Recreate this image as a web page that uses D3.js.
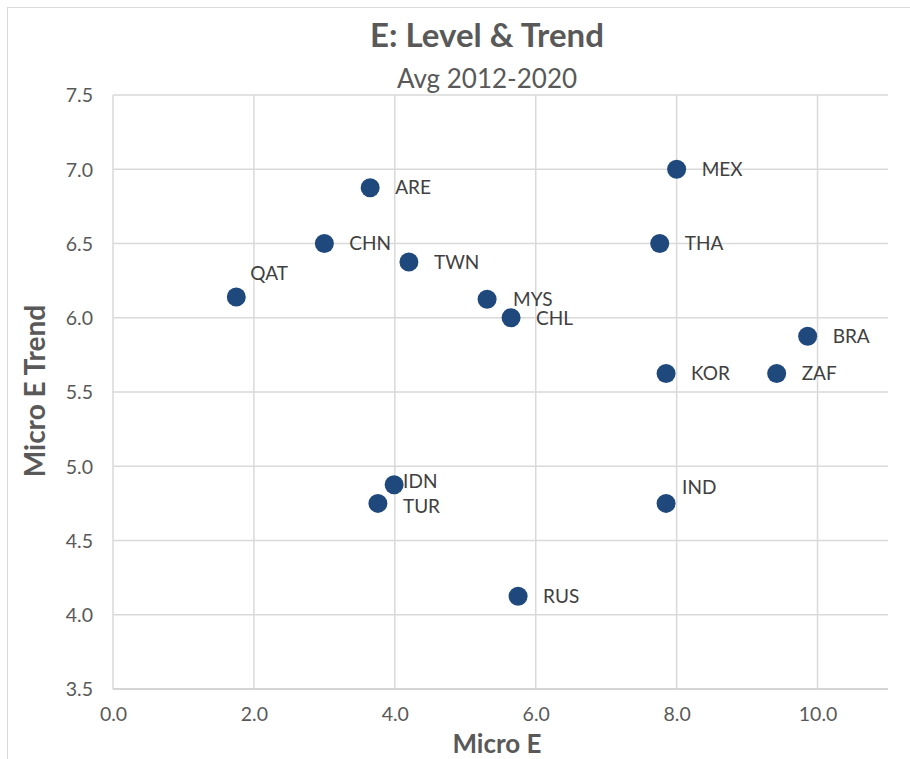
<!DOCTYPE html>
<html><head><meta charset="utf-8">
<script src="https://cdn.jsdelivr.net/npm/d3@7"></script>
<style>body{margin:0;background:#fff}svg{display:block}</style>
</head><body>
<svg id="c" width="910" height="759"></svg>
<script>
const countries = ["QAT","CHN","ARE","TWN","MYS","CHL","MEX","THA","BRA","KOR","ZAF","IDN","TUR","IND","RUS"];
const microE    = [1.75, 3.0, 3.65, 4.2, 5.31, 5.65, 8.0, 7.76, 9.86, 7.85, 9.42, 3.99, 3.76, 7.85, 5.75];
const microETrend = [6.14, 6.5, 6.875, 6.375, 6.125, 6.0, 7.0, 6.5, 5.875, 5.625, 5.625, 4.875, 4.75, 4.75, 4.125];
const xTicks = [0,2,4,6,8,10];
const yTicks = [3.5,4.0,4.5,5.0,5.5,6.0,6.5,7.0,7.5];
const labelPos = {QAT:[14,-24], IDN:[9,-3], TUR:[25,3], IND:[16,-16], MYS:[26,0], CHL:[25,1]};

const svg = d3.select("#c");
const font = "Lato, 'Open Sans', sans-serif";
const grey = "#595959";
svg.append("rect").attr("x",7.5).attr("y",7.5).attr("width",910).attr("height",760)
  .attr("fill","none").attr("stroke","#d9d9d9").attr("stroke-width",1);

const L=113, R=888, T=95, B=689;
const x = d3.scaleLinear().domain([0,11]).range([L,R]);
const y = d3.scaleLinear().domain([3.5,7.5]).range([B,T]);

const g = svg.append("g");
g.selectAll("line.vx").data(xTicks).join("line")
  .attr("x1",d=>x(d)).attr("x2",d=>x(d)).attr("y1",T).attr("y2",B)
  .attr("stroke","#d9d9d9").attr("stroke-width",1.5);
g.selectAll("line.hy").data(yTicks).join("line")
  .attr("x1",L).attr("x2",R).attr("y1",d=>y(d)).attr("y2",d=>y(d))
  .attr("stroke","#d9d9d9").attr("stroke-width",1.5);

const xAxis = svg.append("g").attr("transform",`translate(0,${B})`)
  .call(d3.axisBottom(x).tickValues(xTicks).tickFormat(d3.format(".1f")).tickSize(0).tickPadding(18));
const yAxis = svg.append("g").attr("transform",`translate(${L},0)`)
  .call(d3.axisLeft(y).tickValues(yTicks).tickFormat(d3.format(".1f")).tickSize(0).tickPadding(20));
[xAxis,yAxis].forEach(a=>{
  a.select(".domain").remove();
  a.selectAll("text").attr("font-family",font).attr("font-size",19.5).attr("fill",grey);
});
yAxis.selectAll("text").attr("dy","0.35em");
xAxis.selectAll("text").attr("dy","0.71em");
svg.append("line").attr("x1",L).attr("x2",R).attr("y1",B).attr("y2",B).attr("stroke","#d0d0d0").attr("stroke-width",1.5);

const data = countries.map((c,i)=>({c, x:microE[i], y:microETrend[i]}));
svg.append("g").selectAll("circle").data(data).join("circle")
  .attr("cx",d=>x(d.x)).attr("cy",d=>y(d.y)).attr("r",9.5).attr("fill","#1F497D");
svg.append("g").selectAll("text").data(data).join("text")
  .attr("x",d=>x(d.x)+(labelPos[d.c]?labelPos[d.c][0]:25))
  .attr("y",d=>y(d.y)+(labelPos[d.c]?labelPos[d.c][1]:0))
  .attr("dy","0.35em").attr("font-family",font).attr("font-size",19).attr("fill","#404040")
  .text(d=>d.c);

svg.append("text").attr("x",487).attr("y",47).attr("text-anchor","middle")
  .attr("font-family",font).attr("font-weight","bold").attr("font-size",33).attr("fill",grey)
  .text("E: Level & Trend");
svg.append("text").attr("x",487).attr("y",88).attr("text-anchor","middle")
  .attr("font-family",font).attr("font-size",26).attr("fill",grey)
  .text("Avg 2012-2020");
svg.append("text").attr("x",497).attr("y",753).attr("text-anchor","middle")
  .attr("font-family",font).attr("font-weight","bold").attr("font-size",26).attr("fill",grey)
  .text("Micro E");
svg.append("text").attr("transform","translate(45,391) rotate(-90)").attr("text-anchor","middle")
  .attr("font-family",font).attr("font-weight","bold").attr("font-size",28).attr("fill",grey)
  .text("Micro E Trend");
</script>
</body></html>
